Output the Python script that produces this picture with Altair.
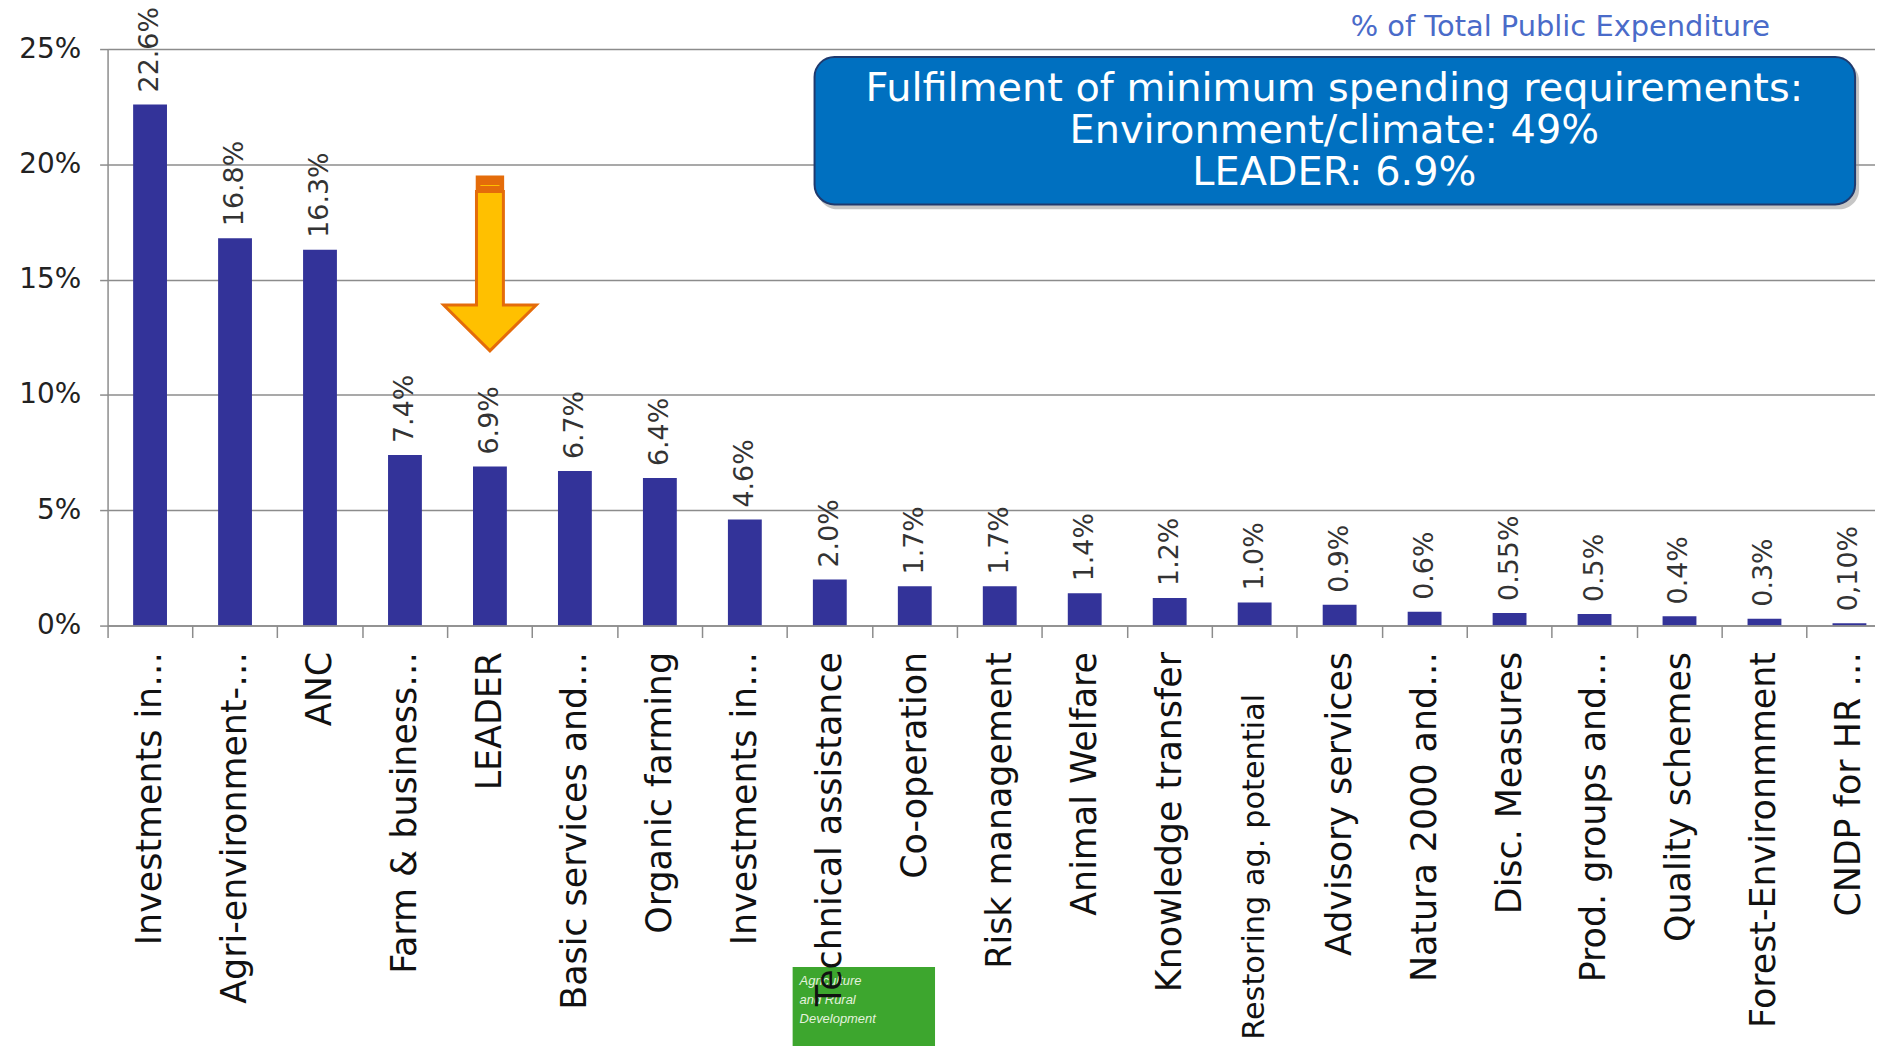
import json
import altair as alt
import pandas as pd

# ---- data ----
categories = ["Investments in…", "Agri-environment-…", "ANC", "Farm & business…", "LEADER",
              "Basic services and…", "Organic farming", "Investments in…", "Technical assistance",
              "Co-operation", "Risk management", "Animal Welfare", "Knowledge transfer",
              "Restoring ag. potential", "Advisory services", "Natura 2000 and…", "Disc. Measures",
              "Prod. groups and…", "Quality schemes", "Forest-Environmment", "CNDP for HR …"]
values = [22.6, 16.8, 16.3, 7.4, 6.9, 6.7, 6.4, 4.6, 2.0, 1.7, 1.7, 1.4, 1.2, 1.0, 0.9,
          0.6, 0.55, 0.5, 0.4, 0.3, 0.10]
value_labels = ["22.6%", "16.8%", "16.3%", "7.4%", "6.9%", "6.7%", "6.4%", "4.6%", "2.0%",
                "1.7%", "1.7%", "1.4%", "1.2%", "1.0%", "0.9%", "0.6%", "0.55%", "0.5%",
                "0.4%", "0.3%", "0,10%"]
y_ticks = [0, 5, 10, 15, 20, 25]
box_lines = ["Fulfilment of minimum spending requirements:",
             "Environment/climate: 49%",
             "LEADER: 6.9%"]
top_note = "% of Total Public Expenditure"
logo_lines = ["Agriculture", "and Rural", "Development"]
arrow_category = "LEADER"
arrow_anchor_value = 15.37

keys = [f"{i:02d}" for i in range(len(categories))]
df = pd.DataFrame({"key": keys, "value": values, "label": value_labels})

small_key = keys[categories.index("Restoring ag. potential")]
label_expr = json.dumps(categories, ensure_ascii=False) + "[toNumber(datum.value)]"

GRID = "#8c8c8c"
FONT = "DejaVu Sans"

x_enc = alt.X(
    "key:N", sort=keys, title=None,
    scale=alt.Scale(range=[0, 1792], paddingInner=0, paddingOuter=0),
    axis=alt.Axis(
        labelExpr=label_expr, labelAngle=270, labelFont=FONT,
        labelFontSize={"condition": {"test": f"datum.value === '{small_key}'", "value": 30.5}, "value": 35},
        labelPadding={"condition": {"test": f"datum.value === '{small_key}'", "value": 56}, "value": 14},
        labelColor="#111111", labelOverlap=False, labelLimit=0,
        bandPosition=0, ticks=True, tickSize=12, tickColor=GRID, tickWidth=1.5,
        domainColor=GRID, domainWidth=1.5, grid=False, zindex=1,
    ),
)
y_enc = alt.Y(
    "value:Q", title=None,
    scale=alt.Scale(domain=[0, 25], nice=False, zero=True),
    axis=alt.Axis(
        values=y_ticks, labelExpr="datum.value + '%'", labelFont=FONT, labelFontSize=28,
        labelColor="#222222", labelPadding=19, tickSize=8, tickColor=GRID, tickWidth=1.5,
        grid=True, gridColor=GRID, gridWidth=1.5, domainColor=GRID, domainWidth=1.5,
    ),
)

bars = alt.Chart(df).mark_bar(size=34, color="#333399").encode(x=x_enc, y=y_enc)

bar_text = alt.Chart(df).mark_text(
    angle=270, align="left", baseline="middle", dx=12, font=FONT, fontSize=27, color="#333333"
).encode(x=alt.X("key:N", sort=keys), y="value:Q", text="label:N")

one = pd.DataFrame({"k": [0]})

# title note, top right
note = alt.Chart(one).mark_text(
    text=top_note, font=FONT, fontSize=29, color="#4a6bc9", align="center", baseline="middle"
).encode(x=alt.value(1459), y=alt.value(-22))

# blue rounded box with shadow
box_shadow = alt.Chart(one).mark_rect(cornerRadius=20, color="#a0a0a0", opacity=0.6).encode(
    x=alt.value(713), x2=alt.value(1759), y=alt.value(12), y2=alt.value(161))
box = alt.Chart(one).mark_rect(cornerRadius=20, fill="#0070c0", stroke="#1f3a6e", strokeWidth=2).encode(
    x=alt.value(710), x2=alt.value(1755), y=alt.value(8), y2=alt.value(156))
box_text = alt.Chart(one).mark_text(
    text=box_lines, font=FONT, fontSize=40, lineHeight=42.5, color="white",
    align="center", baseline="middle"
).encode(x=alt.value(1232), y=alt.value(40))

# arrow pointing at LEADER
arr = pd.DataFrame({"key": [keys[categories.index(arrow_category)]], "y": [arrow_anchor_value]})
arrow_body = alt.Chart(arr).mark_point(
    shape="M-0.169,-1 L0.169,-1 L0.169,0.425 L0.581,0.425 L0,1 L-0.581,0.425 L-0.169,0.425 Z",
    size=25600, filled=True, fill="#ffc000", stroke="#e46c0a", strokeWidth=3, opacity=1, fillOpacity=1
).encode(x=alt.X("key:N", sort=keys), y="y:Q")
arrow_cap = alt.Chart(arr).mark_point(
    shape="M-0.169,-1.19 L0.169,-1.19 L0.169,-1 L-0.169,-1 Z",
    size=25600, filled=True, fill="#e46c0a", stroke="#e46c0a", strokeWidth=1.5, opacity=1, fillOpacity=1
).encode(x=alt.X("key:N", sort=keys), y="y:Q")
arrow_line = alt.Chart(arr).mark_point(
    shape="M-0.12,-1.075 L0.12,-1.075", size=25600, filled=False, stroke="#ffc000",
    strokeWidth=1, opacity=1
).encode(x=alt.X("key:N", sort=keys), y="y:Q")

# green logo at the bottom
logo = alt.Chart(one).mark_rect(color="#3da62e").encode(
    x=alt.value(688), x2=alt.value(831), y=alt.value(922), y2=alt.value(1005))
logo_text = alt.Chart(one).mark_text(
    text=logo_lines, font="Liberation Sans", fontSize=13, fontStyle="italic",
    color="#e4f2de", align="left", baseline="middle", lineHeight=19
).encode(x=alt.value(695), y=alt.value(936))

chart = alt.layer(
    bars, bar_text, note, box_shadow, box, box_text,
    arrow_body, arrow_cap, arrow_line, logo, logo_text
).properties(
    width=1775, height=579,
    autosize=alt.AutoSizeParams(type="none"),
    padding={"left": 100, "top": 39, "right": 0, "bottom": 420},
    background="white",
).configure_view(stroke=None)

chart.save("out.html", embed_options={"renderer": "svg", "actions": False})
